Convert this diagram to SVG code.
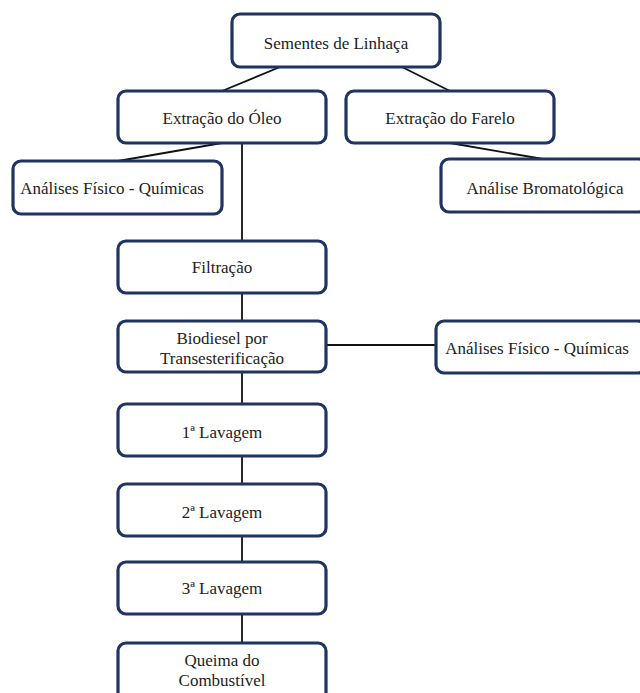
<svg xmlns="http://www.w3.org/2000/svg" width="640" height="693" viewBox="0 0 640 693">
<style>
.box{fill:#ffffff;stroke:#1f3461;stroke-width:3.2}
.lbl{font-family:'Liberation Serif','Times New Roman',serif;font-size:17px;fill:#222222;text-anchor:middle}
.con{stroke:#111111;stroke-width:1.8;fill:none}
</style>
<rect width="640" height="693" fill="#ffffff"/>
<g id="connectors">
<line class="con" x1="280" y1="67" x2="222" y2="91"/>
<line class="con" x1="402" y1="67" x2="450" y2="91"/>
<line class="con" x1="222" y1="143" x2="118" y2="161"/>
<line class="con" x1="450" y1="143" x2="543" y2="159"/>
<line class="con" x1="242" y1="143" x2="242" y2="240"/>
<line class="con" x1="242" y1="293" x2="242" y2="320"/>
<line class="con" x1="327" y1="345" x2="435" y2="345"/>
<line class="con" x1="242" y1="372" x2="242" y2="403"/>
<line class="con" x1="242" y1="457" x2="242" y2="483"/>
<line class="con" x1="242" y1="537" x2="242" y2="561"/>
<line class="con" x1="242" y1="614" x2="242" y2="642"/>
</g>
<g id="sementes"><rect class="box" x="232" y="14" width="208" height="53" rx="8"/><text class="lbl" x="336" y="49">Sementes de Linhaça</text></g>
<g id="extracao-oleo"><rect class="box" x="118" y="91" width="208" height="52" rx="8"/><text class="lbl" x="222" y="124">Extração do Óleo</text></g>
<g id="extracao-farelo"><rect class="box" x="346" y="91" width="208" height="52" rx="8"/><text class="lbl" x="450" y="124">Extração do Farelo</text></g>
<g id="analises-fq-1"><rect class="box" x="13" y="161" width="209" height="53" rx="8"/><text class="lbl" x="112" y="194">Análises Físico - Químicas</text></g>
<g id="analise-bromatologica"><rect class="box" x="441" y="159" width="206" height="53" rx="8"/><text class="lbl" x="545" y="194">Análise Bromatológica</text></g>
<g id="filtracao"><rect class="box" x="118" y="241" width="208" height="52" rx="8"/><text class="lbl" x="222" y="273">Filtração</text></g>
<g id="biodiesel"><rect class="box" x="118" y="321" width="208" height="51" rx="8"/><text class="lbl" x="222" y="344">Biodiesel por</text><text class="lbl" x="222" y="364">Transesterificação</text></g>
<g id="analises-fq-2"><rect class="box" x="436" y="321" width="210" height="52" rx="8"/><text class="lbl" x="537" y="354">Análises Físico - Químicas</text></g>
<g id="lavagem-1"><rect class="box" x="118" y="404" width="208" height="52" rx="8"/><text class="lbl" x="222" y="438">1ª Lavagem</text></g>
<g id="lavagem-2"><rect class="box" x="118" y="484" width="208" height="52" rx="8"/><text class="lbl" x="222" y="518">2ª Lavagem</text></g>
<g id="lavagem-3"><rect class="box" x="118" y="562" width="208" height="52" rx="8"/><text class="lbl" x="222" y="594">3ª Lavagem</text></g>
<g id="queima"><rect class="box" x="118" y="643" width="208" height="58" rx="8"/><text class="lbl" x="222" y="666">Queima do</text><text class="lbl" x="222" y="686">Combustível</text></g>
</svg>
